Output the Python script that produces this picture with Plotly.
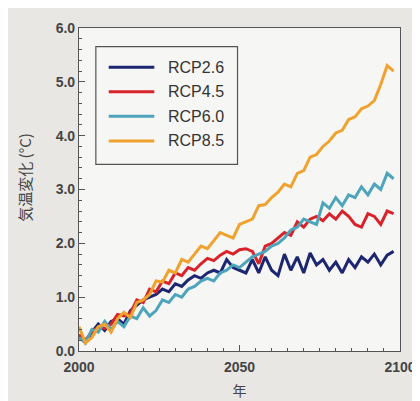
import plotly.graph_objects as go

years = list(range(2000, 2100, 2))

rcp26 = [0.30, 0.15, 0.35, 0.50, 0.38, 0.55, 0.60, 0.50, 0.75, 0.85,
         0.95, 1.00, 1.05, 1.15, 1.10, 1.25, 1.20, 1.32, 1.40, 1.35,
         1.45, 1.50, 1.45, 1.70, 1.55, 1.50, 1.45, 1.70, 1.45, 1.75,
         1.50, 1.40, 1.80, 1.50, 1.75, 1.45, 1.82, 1.60, 1.70, 1.50,
         1.65, 1.45, 1.70, 1.55, 1.75, 1.65, 1.80, 1.60, 1.78, 1.85]

rcp45 = [0.30, 0.20, 0.35, 0.45, 0.42, 0.50, 0.68, 0.65, 0.70, 0.95,
         0.90, 1.15, 1.10, 1.30, 1.25, 1.45, 1.40, 1.55, 1.50, 1.62,
         1.72, 1.68, 1.78, 1.85, 1.80, 1.88, 1.90, 1.85, 1.62, 1.95,
         2.00, 2.10, 2.20, 2.15, 2.40, 2.30, 2.45, 2.50, 2.42, 2.55,
         2.45, 2.60, 2.50, 2.35, 2.30, 2.55, 2.50, 2.35, 2.60, 2.55]

rcp60 = [0.25, 0.15, 0.40, 0.35, 0.55, 0.40, 0.55, 0.45, 0.65, 0.60,
         0.80, 0.65, 0.75, 0.95, 0.90, 1.05, 1.00, 1.15, 1.20, 1.30,
         1.35, 1.30, 1.45, 1.50, 1.60, 1.55, 1.65, 1.75, 1.80, 1.85,
         1.95, 2.00, 2.10, 2.25, 2.30, 2.45, 2.40, 2.35, 2.75, 2.65,
         2.85, 2.70, 2.90, 2.85, 3.05, 2.90, 3.10, 3.00, 3.30, 3.20]

rcp85 = [0.45, 0.15, 0.25, 0.45, 0.50, 0.35, 0.60, 0.72, 0.62, 0.90,
         0.95, 1.05, 1.30, 1.28, 1.50, 1.45, 1.70, 1.65, 1.80, 1.95,
         1.90, 2.05, 2.20, 2.15, 2.10, 2.35, 2.40, 2.45, 2.70, 2.72,
         2.85, 2.95, 3.10, 3.05, 3.30, 3.35, 3.60, 3.65, 3.80, 3.90,
         4.05, 4.10, 4.30, 4.35, 4.50, 4.55, 4.65, 4.95, 5.30, 5.20]

series_names = ["RCP2.6", "RCP4.5", "RCP6.0", "RCP8.5"]
series_vals = [rcp26, rcp45, rcp60, rcp85]
colors = ["#1d2670", "#d8232a", "#4ea4bb", "#f0a22e"]

x_ticks = [2000, 2050, 2100]
y_ticks = [0, 1, 2, 3, 4, 5, 6]
y_ticklabels = ["0.0", "1.0", "2.0", "3.0", "4.0", "5.0", "6.0"]

fig = go.Figure()
for name, vals, c in zip(series_names, series_vals, colors):
    fig.add_trace(go.Scatter(x=years, y=vals, mode="lines", name=name,
                             line=dict(color=c, width=3), showlegend=False))

axis_common = dict(showline=True, linecolor="#555555", linewidth=1.2, mirror=True,
                   ticks="inside", ticklen=6, tickcolor="#555555", showgrid=False,
                   zeroline=False,
                   tickfont=dict(family="Liberation Sans, Arial", size=14, color="#444444", weight="bold"))

fig.update_xaxes(range=[2000, 2100], tickvals=x_ticks, ticklabelstandoff=3,
                 minor=dict(dtick=5, ticks="inside", ticklen=3, tickcolor="#555555"),
                 title=dict(text="年", font=dict(family="Noto Sans CJK JP", size=14, color="#444444"), standoff=12),
                 **axis_common)
fig.update_yaxes(range=[0, 6], tickvals=y_ticks, ticktext=y_ticklabels,
                 minor=dict(dtick=0.2, ticks="inside", ticklen=3, tickcolor="#555555"),
                 **axis_common)

# y-axis title as rotated annotation
fig.add_annotation(text="気温変化 (°C)", xref="paper", yref="paper",
                   x=(16 - 71) / 324, y=(347 - 170) / 329, textangle=-90,
                   showarrow=False, xanchor="center", yanchor="middle",
                   font=dict(family="Noto Sans CJK JP", size=15, color="#444444"))

# legend drawn manually
lx0, lx1 = (88 - 71) / 324, (231 - 71) / 324
ly0, ly1 = (347 - 157) / 329, (347 - 37) / 329
fig.add_shape(type="rect", xref="paper", yref="paper", x0=lx0, x1=lx1, y0=ly0, y1=ly1,
              line=dict(color="#555555", width=1.2), fillcolor="#f6f6f4", layer="below")
for i, (name, c) in enumerate(zip(series_names, colors)):
    yy = (347 - (58 + 25 * i)) / 329
    fig.add_shape(type="line", xref="paper", yref="paper",
                  x0=(101 - 71) / 324, x1=(147 - 71) / 324, y0=yy, y1=yy,
                  line=dict(color=c, width=3))
    fig.add_annotation(text=name, xref="paper", yref="paper", x=(159 - 71) / 324, y=yy,
                       xanchor="left", yanchor="middle", showarrow=False,
                       font=dict(family="Liberation Sans, Arial", size=16, color="#333333"))

fig.update_layout(
    width=420, height=401,
    margin=dict(l=71, r=25, t=18, b=54),
    paper_bgcolor="#e8e7e4",
    plot_bgcolor="#f6f6f4",
    showlegend=False,
)

fig.write_html("out.html")
